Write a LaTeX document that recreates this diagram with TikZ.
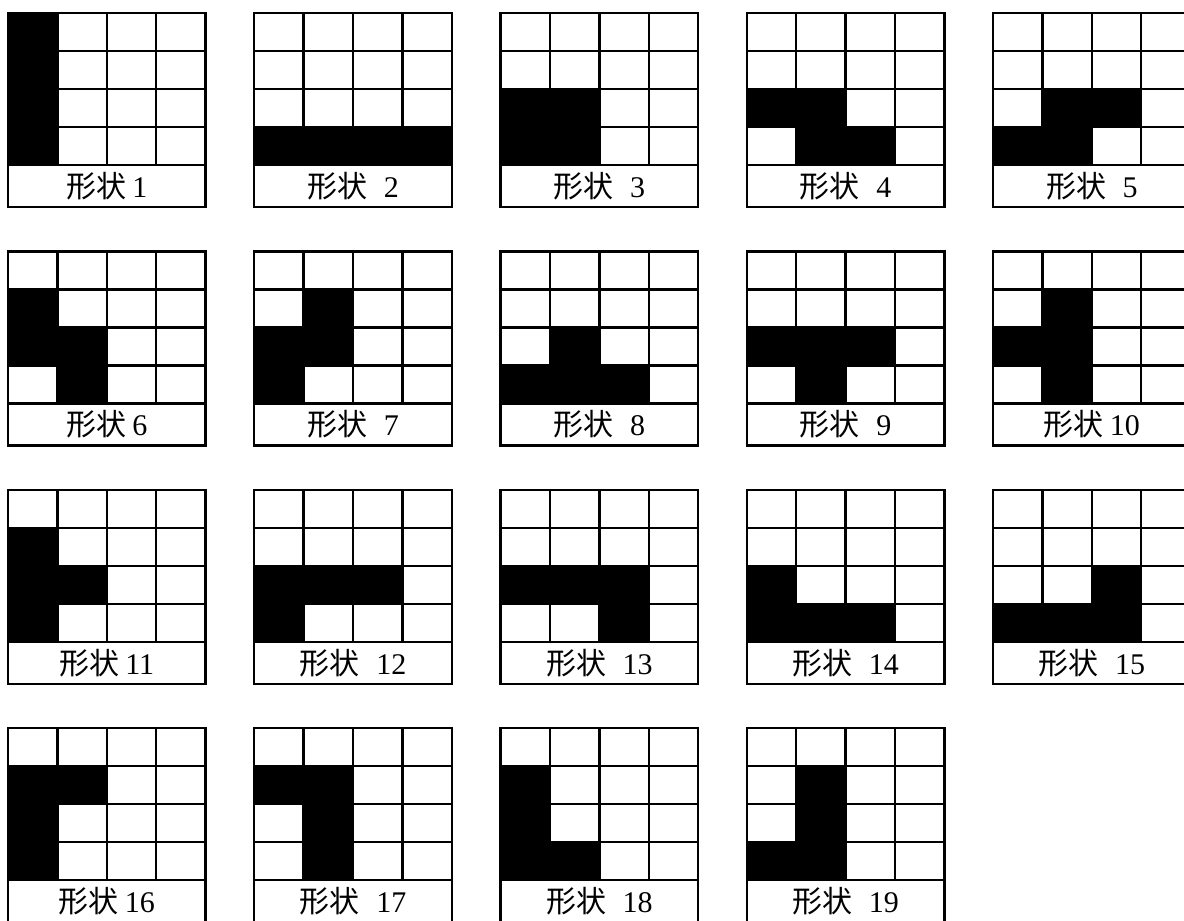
\documentclass[tikz,border=0pt]{standalone}
\usepackage{fontspec}
\setmainfont{Liberation Serif}
\newfontfamily\cjk{Noto Sans CJK SC}
\begin{document}
\begin{tikzpicture}[x=1pt, y=-1pt,
  gridline/.style={line width=2.4pt},
  cellfill/.style={fill=black},
  shapelabel/.style={font=\fontsize{30}{32}\selectfont, inner sep=0pt}]
\fill[white] (0,0) rectangle (1184,921);
\useasboundingbox (0,0) rectangle (1184,921);
\clip (0,0) rectangle (1184,921);
% number/column/row/gap/filled cells (col/row)
\foreach \n/\c/\r/\g/\cells in {
  1/0/0/0.2/{0/0,0/1,0/2,0/3},
  2/1/0/0.55/{0/3,1/3,2/3,3/3},
  3/2/0/0.55/{0/2,1/2,0/3,1/3},
  4/3/0/0.55/{0/2,1/2,1/3,2/3},
  5/4/0/0.55/{1/2,2/2,0/3,1/3},
  6/0/1/0.2/{0/1,0/2,1/2,1/3},
  7/1/1/0.55/{1/1,1/2,0/2,0/3},
  8/2/1/0.55/{1/2,0/3,1/3,2/3},
  9/3/1/0.55/{0/2,1/2,2/2,1/3},
  10/4/1/0.2/{1/1,1/2,1/3,0/2},
  11/0/2/0.2/{0/1,0/2,0/3,1/2},
  12/1/2/0.55/{0/2,1/2,2/2,0/3},
  13/2/2/0.55/{0/2,1/2,2/2,2/3},
  14/3/2/0.55/{0/2,0/3,1/3,2/3},
  15/4/2/0.55/{2/2,0/3,1/3,2/3},
  16/0/3/0.2/{0/1,1/1,0/2,0/3},
  17/1/3/0.55/{0/1,1/1,1/2,1/3},
  18/2/3/0.55/{0/1,0/2,0/3,1/3},
  19/3/3/0.55/{1/1,1/2,1/3,0/3}}{
  \begin{scope}[shift={(8+246.25*\c, 13+238.4*\r)}]
    \foreach \i/\j in \cells
      \fill[cellfill] (49.4*\i,38*\j) rectangle ++(49.4,38);
    \foreach \k in {1,2,3}
      \draw[gridline] (49.4*\k,0) -- (49.4*\k,152);
    \foreach \k in {1,2,3,4}
      \draw[gridline] (0,38*\k) -- (197.6,38*\k);
    \draw[gridline] (0,0) rectangle (197.6,194);
    \node[shapelabel] (lab\n) at (98.8,173) {{\cjk 形状}\hspace{\g em}\n};
  \end{scope}
}
\end{tikzpicture}
\end{document}
